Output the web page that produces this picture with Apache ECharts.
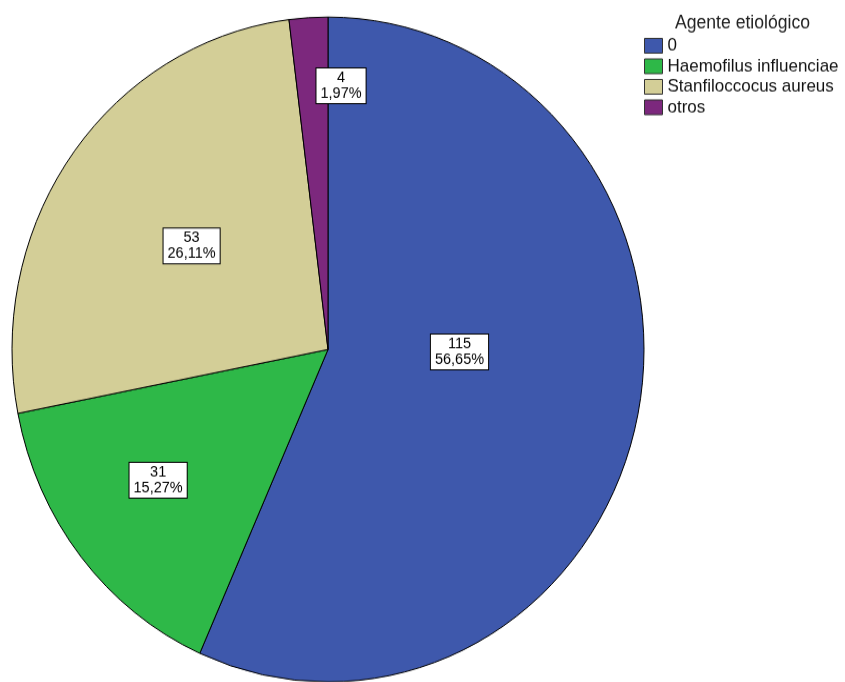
<!DOCTYPE html>
<html>
<head>
<meta charset="utf-8">
<script src="https://cdn.jsdelivr.net/npm/echarts@6/dist/echarts.min.js"></script>
<style>
  html, body { margin: 0; padding: 0; background: #fff; width: 845px; height: 682px; overflow: hidden; }
  #wrap { position: relative; width: 845px; height: 682px; overflow: visible; }
  /* the pie is drawn slightly taller than wide */
  #chart { position: absolute; left: 0; top: 0; width: 845px; height: 649px; transform: scaleY(1.052); transform-origin: 0 0; }
</style>
</head>
<body>
<div id="wrap"><div id="chart"></div></div>
<script>
const legendTitle = 'Agente etiológico';
const categories = ['0', 'Haemofilus influenciae', 'Stanfiloccocus aureus', 'otros'];
const counts = [115, 31, 53, 4];
const colors = ['#3E58AC', '#2EB848', '#D3CE97', '#7C287D'];

// shifts of each value box from the default inside position
const labelShift = [[-26, -31], [-44, 24], [-6, -4], [23, -90]];

const font = '"Liberation Sans", Arial, sans-serif';

const chart = echarts.init(document.getElementById('chart'), null, { renderer: 'canvas' });

chart.setOption({
  animation: false,
  color: colors,
  title: {
    text: legendTitle,
    left: 675,
    top: 12,
    padding: 0,
    textStyle: { fontFamily: font, fontSize: 17.6, fontWeight: 'normal', color: '#222', lineHeight: 20 }
  },
  legend: {
    orient: 'vertical',
    left: 644,
    top: 35,
    padding: 0,
    itemGap: 2.5,
    itemWidth: 18,
    itemHeight: 14,
    icon: 'rect',
    selectedMode: false,
    itemStyle: { borderColor: '#333', borderWidth: 1 },
    textStyle: { fontFamily: font, fontSize: 17, color: '#111', lineHeight: 17 },
    data: categories
  },
  series: [{
    type: 'pie',
    center: [328, 332.2],
    radius: [0, 316],
    startAngle: 90,
    clockwise: true,
    avoidLabelOverlap: false,
    itemStyle: { borderColor: '#000', borderWidth: 1 },
    emphasis: { disabled: true },
    label: {
      show: true,
      position: 'inside',
      fontFamily: font,
      fontSize: 14.5,
      lineHeight: 15,
      color: '#000',
      align: 'center',
      backgroundColor: '#fff',
      borderColor: '#000',
      borderWidth: 1,
      padding: [2, 4, 1, 4],
      formatter: p => p.value + '\n' + p.percent.toFixed(2).replace('.', ',') + '%'
    },
    labelLine: { show: false },
    labelLayout: p => ({ dx: labelShift[p.dataIndex][0], dy: labelShift[p.dataIndex][1] }),
    data: categories.map((name, i) => ({ name: name, value: counts[i] }))
  }]
});
</script>
</body>
</html>
